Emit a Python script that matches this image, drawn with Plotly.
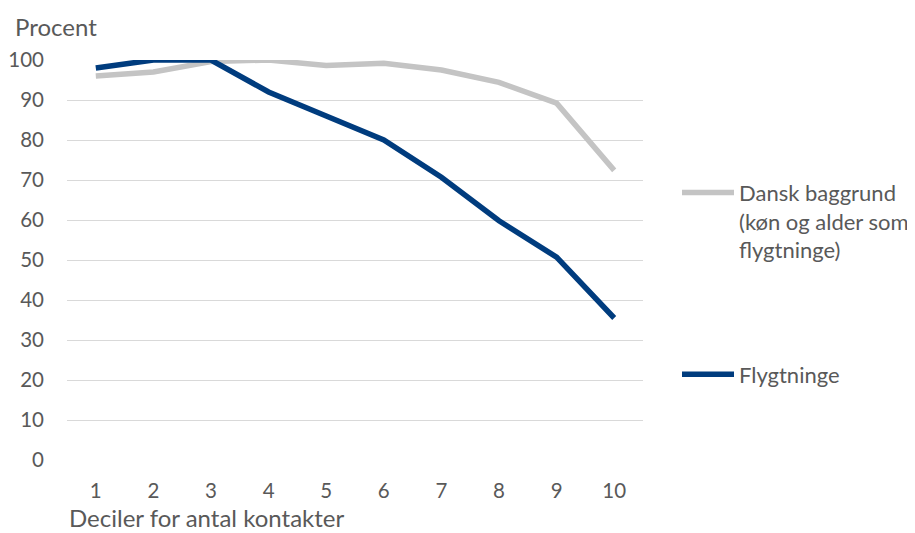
import plotly.graph_objects as go

deciles = [1, 2, 3, 4, 5, 6, 7, 8, 9, 10]
dansk = [96, 97, 99.6, 100, 98.6, 99.2, 97.5, 94.4, 89.2, 72.4]
flygtninge = [98, 100, 100, 92, 86, 80, 70.7, 59.8, 50.7, 35.5]
y_ticks = [0, 10, 20, 30, 40, 50, 60, 70, 80, 90, 100]

FONT = "Lato"
TXT = "#595959"
FS = 22
FS_TICK = 20.5
FS_TITLE = 24

fig = go.Figure()
fig.add_trace(go.Scatter(
    x=deciles, y=dansk, mode="lines",
    name="Dansk baggrund<br>(køn og alder som<br>flygtninge)",
    line=dict(color="#C4C4C4", width=5.5), legend="legend"))
fig.add_trace(go.Scatter(
    x=deciles, y=flygtninge, mode="lines", name="Flygtninge",
    line=dict(color="#003C7E", width=5.5), legend="legend2"))

fig.update_layout(
    width=907, height=525,
    margin=dict(l=59, r=272, t=52, b=73, autoexpand=False),
    paper_bgcolor="white", plot_bgcolor="white",
    font=dict(family=FONT, size=FS, color=TXT),
    xaxis=dict(range=[0.5, 10.5], tickvals=deciles, showgrid=False,
               zeroline=False, showline=False, ticks="", ticklen=0,
               ticklabelstandoff=16, automargin=False,
               tickfont=dict(size=FS_TICK, color=TXT)),
    yaxis=dict(range=[0, 100], tickvals=y_ticks, showgrid=True,
               gridcolor="#D9D9D9", gridwidth=1.3, zeroline=False,
               showline=False, ticks="", ticklabelstandoff=22,
               automargin=False,
               tickfont=dict(size=FS_TICK, color=TXT)),
    legend=dict(xref="container", yref="container",
                x=0.7376, xanchor="left", y=0.6880, yanchor="top",
                valign="top", itemwidth=52, font=dict(size=FS, color=TXT),
                bgcolor="rgba(0,0,0,0)", tracegroupgap=0),
    legend2=dict(xref="container", yref="container",
                 x=0.7376, xanchor="left", y=0.3020, yanchor="middle",
                 itemwidth=52, font=dict(size=FS, color=TXT),
                 bgcolor="rgba(0,0,0,0)"),
    showlegend=True,
    annotations=[
        dict(text="Procent", xref="paper", yref="paper", x=0, y=1.0,
             xshift=-54, yshift=34, xanchor="left", yanchor="middle",
             showarrow=False, font=dict(size=FS_TITLE, color=TXT)),
        dict(text="Deciler for antal kontakter", xref="paper", yref="paper",
             x=0, y=0, yshift=-57, xanchor="left", yanchor="middle",
             showarrow=False, font=dict(size=FS_TITLE, color=TXT)),
    ],
)

fig.write_html("out.html")
